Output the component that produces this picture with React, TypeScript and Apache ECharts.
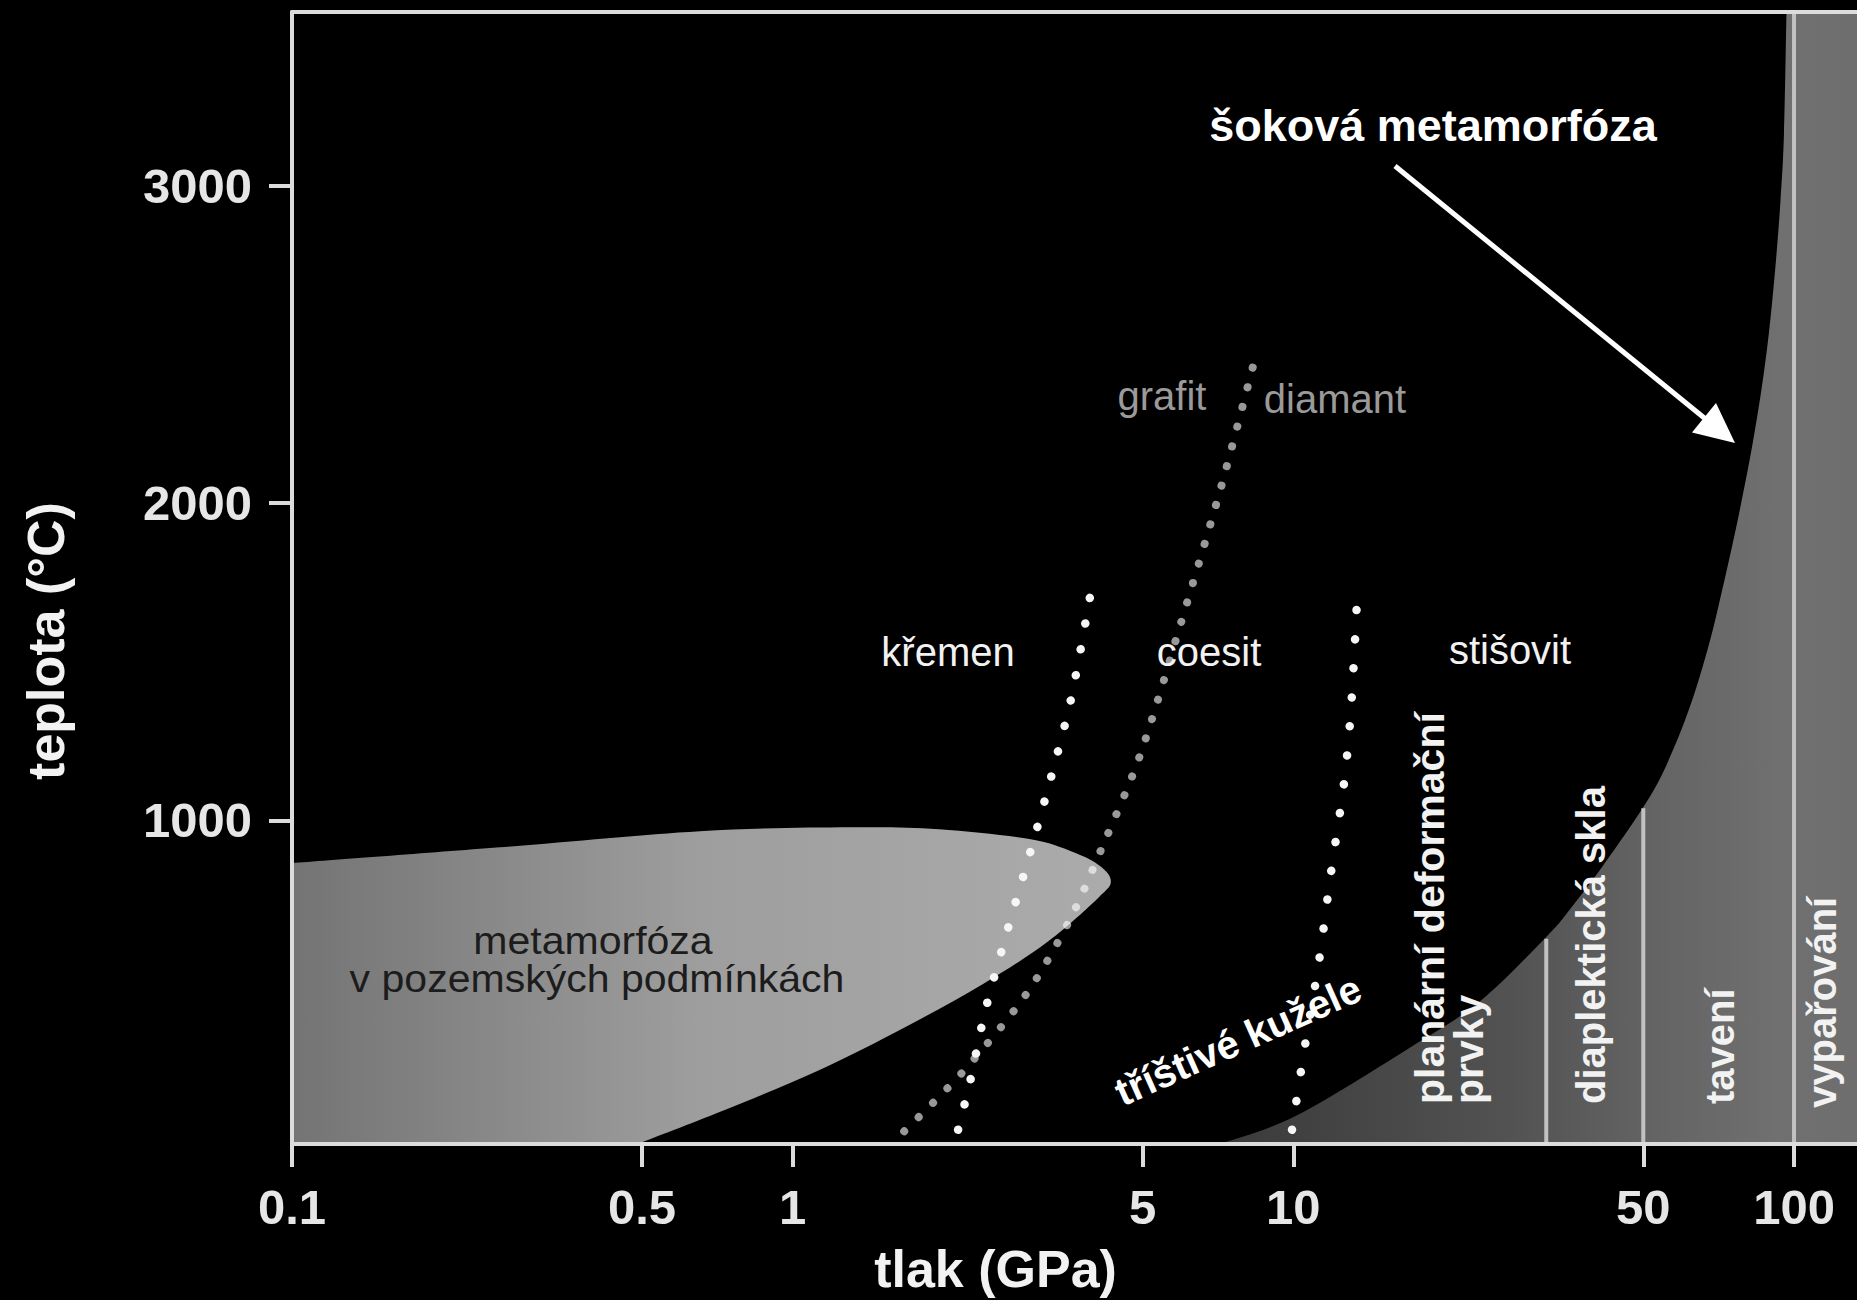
import React, { useEffect, useRef } from 'react';
import * as echarts from 'echarts';

// ---------- axes ----------
const PRESSURE_TICKS = [0.1, 0.5, 1, 5, 10, 50, 100]; // GPa (log axis)
const TEMPERATURE_TICKS = [1000, 2000, 3000]; // °C
const P_MIN = 0.1;
const P_MAX = 133.6;
const T_MIN = -20;
const T_MAX = 3548;

// ---------- regional (terrestrial) metamorphism field ----------
const REGIONAL_UPPER_P = [0.1, 0.26, 0.653, 1.3, 1.96, 2.97, 3.63, 4.11, 4.32];
const REGIONAL_UPPER_T = [865, 915, 966, 978, 972, 941, 900, 856, 808];
const REGIONAL_LOWER_P = [4.09, 3.24, 2.4, 1.68, 1.12, 0.723, 0.49];
const REGIONAL_LOWER_T = [758, 619, 484, 349, 210, 84, -20];

// ---------- shock metamorphism boundary ----------
const SHOCK_P = [7.14, 10.1, 16.9, 23.6, 32.1, 35.7, 41.5, 51.6, 57.4, 62.7, 67.2, 70.2, 75.2, 78.7, 82.6, 86.1, 89.1, 91.8, 94.0, 95.5, 96.6];
const SHOCK_T = [-20, 68, 279, 430, 635, 720, 856, 1076, 1224, 1382, 1539, 1656, 1863, 2012, 2185, 2358, 2537, 2745, 2956, 3167, 3548];
const STAGE_DIVIDERS_P = [32, 50, 100];

// ---------- phase boundaries ----------
const QUARTZ_COESITE_P = [2.14, 2.26, 2.42, 2.67, 2.97, 3.28, 3.6, 3.93];
const QUARTZ_COESITE_T = [25, 175, 395, 640, 890, 1135, 1385, 1710];
const COESITE_STISHOVITE_P = [9.94, 10.55, 11.25, 11.89, 12.62, 12.98, 13.22, 13.4];
const COESITE_STISHOVITE_T = [25, 290, 555, 835, 1115, 1310, 1510, 1690];
const GRAPHITE_DIAMOND_P = [1.67, 2.18, 2.92, 3.56, 4.15, 4.94, 5.97, 7.17, 8.35];
const GRAPHITE_DIAMOND_T = [20, 205, 450, 680, 915, 1205, 1625, 2050, 2445];

const FONT = '"Liberation Sans", Arial, Helvetica, sans-serif';
const AXIS_COLOR = '#dcdcdc';

const toXY = (P: number[], T: number[]) => P.map((p, i) => [Math.log10(p), T[i]]);

function catmullRom(pts: number[][]): string {
  let d = '';
  for (let i = 0; i < pts.length - 1; i++) {
    const p0 = pts[Math.max(i - 1, 0)];
    const p1 = pts[i];
    const p2 = pts[i + 1];
    const p3 = pts[Math.min(i + 2, pts.length - 1)];
    const c1x = p1[0] + (p2[0] - p0[0]) / 6;
    const c1y = p1[1] + (p2[1] - p0[1]) / 6;
    const c2x = p2[0] - (p3[0] - p1[0]) / 6;
    const c2y = p2[1] - (p3[1] - p1[1]) / 6;
    d += ` C ${c1x} ${c1y} ${c2x} ${c2y} ${p2[0]} ${p2[1]}`;
  }
  return d;
}

function arrowGraphics(from: number[], to: number[], headLen: number, halfW: number, width: number) {
  const dx = to[0] - from[0];
  const dy = to[1] - from[1];
  const len = Math.hypot(dx, dy);
  const ux = dx / len, uy = dy / len;
  const bx = to[0] - ux * headLen, by = to[1] - uy * headLen;
  const px = -uy, py = ux;
  return [
    { type: 'line', z: 100, shape: { x1: from[0], y1: from[1], x2: bx + ux * 2, y2: by + uy * 2 }, style: { stroke: '#ffffff', lineWidth: width } },
    { type: 'polygon', z: 100, shape: { points: [to, [bx + px * halfW, by + py * halfW], [bx - px * halfW, by - py * halfW]] }, style: { fill: '#ffffff' } },
  ];
}

function txt(text: string, x: number, y: number, opts: any = {}) {
  return {
    type: 'text',
    z: 100,
    x,
    y,
    rotation: opts.rotation || 0,
    scaleX: opts.scaleX || 1,
    style: {
      text,
      fill: opts.fill || '#f2f2f2',
      fontSize: opts.size || 40,
      fontWeight: opts.weight || 'normal',
      fontFamily: FONT,
      align: opts.align || 'center',
      verticalAlign: 'middle',
    },
  };
}

function pressureLabel(v: number) {
  let best = PRESSURE_TICKS[0];
  PRESSURE_TICKS.forEach((t) => {
    if (Math.abs(Math.log10(t) - v) < Math.abs(Math.log10(best) - v)) best = t;
  });
  return Math.abs(Math.log10(best) - v) < 1e-6 ? String(best) : '';
}

export default function App() {
  const ref = useRef<HTMLDivElement>(null);

  useEffect(() => {
    if (!ref.current) return;
    const chart = echarts.init(ref.current, null, { renderer: 'svg' });

    const shockFill = new echarts.graphic.LinearGradient(0, 0, 1, 0, [
      { offset: 0, color: '#3a3a3a' },
      { offset: 0.45, color: '#525252' },
      { offset: 0.7, color: '#656565' },
      { offset: 0.88, color: '#707070' },
      { offset: 1, color: '#6e6e6e' },
    ]);
    const regionalFill = new echarts.graphic.LinearGradient(0, 0, 1, 0, [
      { offset: 0, color: '#747474' },
      { offset: 0.5, color: '#9e9e9e' },
      { offset: 1, color: '#ababab' },
    ]);

    const dotted = (name: string, P: number[], T: number[], color: string, width: number, gap: number) => ({
      name,
      type: 'line',
      data: toXY(P, T),
      smooth: 0.3,
      showSymbol: false,
      symbol: 'none',
      silent: true,
      z: 5,
      lineStyle: { color, width, type: [0.1, gap], cap: 'round' },
    });

    const xAxisCommon = {
      type: 'value',
      min: Math.log10(P_MIN),
      max: Math.log10(P_MAX),
      splitLine: { show: false },
    };

    const option: any = {
      animation: false,
      backgroundColor: '#000000',
      grid: { left: 292, right: 0, top: 12, bottom: 155, containLabel: false },
      xAxis: [
        {
          ...xAxisCommon,
          position: 'bottom',
          z: 10,
          axisLine: { show: true, onZero: false, lineStyle: { color: AXIS_COLOR, width: 4 } },
          axisTick: { show: true, length: 23, lineStyle: { color: AXIS_COLOR, width: 4 }, customValues: PRESSURE_TICKS.map(Math.log10) },
          axisLabel: {
            customValues: PRESSURE_TICKS.map(Math.log10),
            formatter: (v: number) => pressureLabel(v),
            color: '#e6e6e6',
            fontSize: 49,
            fontWeight: 'bold',
            fontFamily: FONT,
            margin: 38,
          },
          name: 'tlak (GPa)',
          nameLocation: 'middle',
          nameGap: 99,
          nameTextStyle: { color: '#f2f2f2', fontSize: 52, fontWeight: 'bold', fontFamily: FONT, padding: [0, 158, 0, 0] },
        },
        {
          ...xAxisCommon,
          position: 'top',
          z: 10,
          axisLine: { show: true, onZero: false, lineStyle: { color: AXIS_COLOR, width: 4 } },
          axisTick: { show: false },
          axisLabel: { show: false },
        },
      ],
      yAxis: {
        type: 'value',
        min: T_MIN,
        max: T_MAX,
        position: 'left',
        z: 10,
        splitLine: { show: false },
        axisLine: { show: true, onZero: false, lineStyle: { color: AXIS_COLOR, width: 4 } },
        axisTick: { show: true, length: 23, lineStyle: { color: AXIS_COLOR, width: 4 }, customValues: TEMPERATURE_TICKS },
        axisLabel: {
          customValues: TEMPERATURE_TICKS,
          formatter: (v: number) => String(Math.round(v)),
          color: '#e6e6e6',
          fontSize: 49,
          fontWeight: 'bold',
          fontFamily: FONT,
          margin: 40,
        },
        name: 'teplota (°C)',
        nameLocation: 'middle',
        nameRotate: 90,
        nameGap: 220,
        nameTextStyle: { color: '#f2f2f2', fontSize: 52, fontWeight: 'bold', fontFamily: FONT, padding: [0, 126, 0, 0] },
      },
      series: [
        {
          name: 'šoková metamorfóza',
          type: 'custom',
          coordinateSystem: 'cartesian2d',
          silent: true,
          z: 2,
          data: [[0, 0]],
          renderItem: (_params: any, api: any) => {
            const c = (p: number, t: number) => api.coord([Math.log10(p), t]);
            const curve = SHOCK_P.map((p, i) => c(p, SHOCK_T[i]));
            const tr = c(P_MAX, T_MAX);
            const br = c(P_MAX, T_MIN);
            const d = `M ${curve[0][0]} ${curve[0][1]}` + catmullRom(curve) + ` L ${tr[0]} ${tr[1]} L ${br[0]} ${br[1]} Z`;
            const children: any[] = [{ type: 'path', shape: { pathData: d }, style: { fill: shockFill } }];
            STAGE_DIVIDERS_P.forEach((p) => {
              const bottom = c(p, T_MIN);
              let topY = c(p, T_MAX)[1];
              for (let i = 0; i < curve.length - 1; i++) {
                const a = curve[i], b = curve[i + 1];
                if ((a[0] - bottom[0]) * (b[0] - bottom[0]) <= 0 && a[0] !== b[0]) {
                  topY = a[1] + ((b[1] - a[1]) * (bottom[0] - a[0])) / (b[0] - a[0]) + 2;
                  break;
                }
              }
              children.push({
                type: 'line',
                shape: { x1: bottom[0], y1: bottom[1], x2: bottom[0], y2: topY },
                style: { stroke: '#c2c2c2', lineWidth: 4 },
              });
            });
            return { type: 'group', children };
          },
        },
        {
          name: 'metamorfóza v pozemských podmínkách',
          type: 'custom',
          coordinateSystem: 'cartesian2d',
          silent: true,
          z: 3,
          data: [[0, 0]],
          renderItem: (_params: any, api: any) => {
            const c = (p: number, t: number) => api.coord([Math.log10(p), t]);
            const pts = [
              ...REGIONAL_UPPER_P.map((p, i) => c(p, REGIONAL_UPPER_T[i])),
              ...REGIONAL_LOWER_P.map((p, i) => c(p, REGIONAL_LOWER_T[i])),
            ];
            const corner = c(P_MIN, T_MIN);
            const d = `M ${pts[0][0]} ${pts[0][1]}` + catmullRom(pts) + ` L ${corner[0]} ${corner[1]} Z`;
            return { type: 'path', shape: { pathData: d }, style: { fill: regionalFill } };
          },
        },
        dotted('grafit / diamant', GRAPHITE_DIAMOND_P, GRAPHITE_DIAMOND_T, 'rgba(255,255,255,0.6)', 8, 20.2),
        dotted('křemen / coesit', QUARTZ_COESITE_P, QUARTZ_COESITE_T, '#f6f6f6', 8.5, 26),
        dotted('coesit / stišovit', COESITE_STISHOVITE_P, COESITE_STISHOVITE_T, '#f6f6f6', 8.5, 29),
      ],
      graphic: [
        ...arrowGraphics([1395, 166], [1735, 443], 40, 19, 5),
        txt('šoková metamorfóza', 1433, 125, { size: 45, weight: 'bold', fill: '#ffffff' }),
        txt('grafit', 1162, 396, { fill: '#9a9a9a' }),
        txt('diamant', 1335, 399, { fill: '#9a9a9a' }),
        txt('křemen', 948, 652, {}),
        txt('coesit', 1209, 652, {}),
        txt('stišovit', 1510, 650, {}),
        txt('metamorfóza', 593, 941, { fill: '#1c1c1c', size: 38, scaleX: 1.08 }),
        txt('v pozemských podmínkách', 597, 979, { fill: '#1c1c1c', size: 38, scaleX: 1.08 }),
        txt('tříštivé kužele', 1238, 1040, { weight: 'bold', rotation: (24 * Math.PI) / 180, fill: '#ffffff' }),
        txt('planární deformační', 1430, 1104, { weight: 'bold', size: 41, rotation: Math.PI / 2, align: 'left' }),
        txt('prvky', 1469, 1104, { weight: 'bold', size: 41, rotation: Math.PI / 2, align: 'left' }),
        txt('diaplektická skla', 1591, 1104, { weight: 'bold', rotation: Math.PI / 2, align: 'left' }),
        txt('tavení', 1720, 1104, { weight: 'bold', rotation: Math.PI / 2, align: 'left' }),
        txt('vypařování', 1822, 1108, { weight: 'bold', rotation: Math.PI / 2, align: 'left' }),
      ],
    };

    chart.setOption(option);
    return () => chart.dispose();
  }, []);

  return (
    <div style={{ position: 'fixed', left: 0, top: 0, width: 1857, height: 1300, background: '#000' }}>
      <div ref={ref} style={{ width: 1857, height: 1300 }} />
    </div>
  );
}
